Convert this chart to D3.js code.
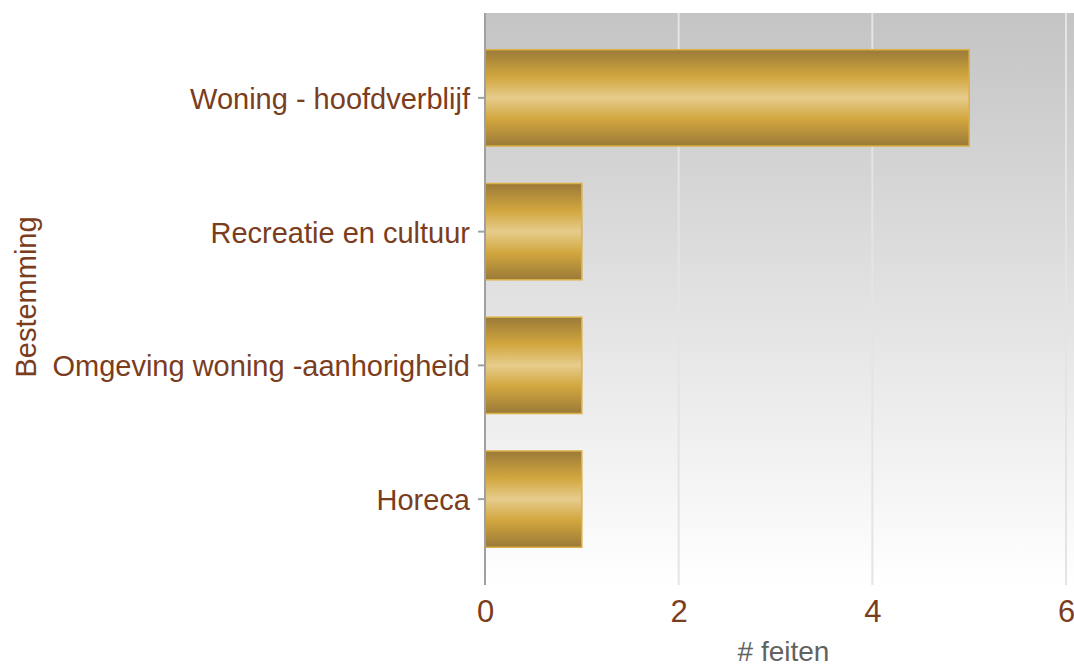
<!DOCTYPE html>
<html>
<head>
<meta charset="utf-8">
<script src="https://cdn.jsdelivr.net/npm/d3@7"></script>
<style>
body{margin:0;background:#fff;}
svg{display:block;}
</style>
</head>
<body>
<svg id="chart" width="1074" height="666"></svg>
<script>
var categories = ['Woning - hoofdverblijf', 'Recreatie en cultuur', 'Omgeving woning -aanhorigheid', 'Horeca'];
var values = [5, 1, 1, 1];
var xTicks = [0, 2, 4, 6];

var svg = d3.select('#chart');
var plotLeft = 485, plotRight = 1066, plotTop = 13, plotBottom = 585;
var font = 'Liberation Sans, Arial, sans-serif';
var brown = '#7b3d20';

var defs = svg.append('defs');
var bg = defs.append('linearGradient').attr('id', 'bg').attr('x1', 0).attr('y1', 0).attr('x2', 0).attr('y2', 1);
bg.append('stop').attr('offset', '0%').attr('stop-color', '#c4c4c4');
bg.append('stop').attr('offset', '100%').attr('stop-color', '#ffffff');

var gold = defs.append('linearGradient').attr('id', 'gold').attr('x1', 0).attr('y1', 0).attr('x2', 0).attr('y2', 1);
[['0%', '#9a7a38'], ['28%', '#d2a63e'], ['50%', '#e6cc8c'], ['72%', '#d2a63e'], ['100%', '#9a7a38']].forEach(function(s){
	gold.append('stop').attr('offset', s[0]).attr('stop-color', s[1]);
});

var x = d3.scaleLinear().domain([0, 6]).range([plotLeft, plotRight]);
var y = d3.scaleBand().domain(categories).range([31, 566]).paddingInner(0.28).paddingOuter(0.14);

// plot background
svg.append('rect')
	.attr('x', plotLeft).attr('y', plotTop)
	.attr('width', 1074 - plotLeft).attr('height', plotBottom - plotTop)
	.style('fill', 'url(#bg)');

// grid lines
svg.selectAll('line.grid')
	.data(xTicks.filter(function(d){ return d > 0; }))
	.enter()
	.append('line')
	.attr('class', 'grid')
	.attr('x1', function(d){ return x(d); })
	.attr('x2', function(d){ return x(d); })
	.attr('y1', plotTop).attr('y2', plotBottom)
	.style('stroke', '#e4e4e4')
	.style('stroke-width', 2);

// bars
svg.selectAll('rect.bar')
	.data(values)
	.enter()
	.append('rect')
	.attr('class', 'bar')
	.attr('x', x(0))
	.attr('y', function(d, i){ return y(categories[i]); })
	.attr('width', function(d){ return x(d) - x(0); })
	.attr('height', y.bandwidth())
	.style('fill', 'url(#gold)')
	.style('stroke', '#dcb046')
	.style('stroke-width', 1.5);

// y axis
var yAxis = d3.axisLeft(y).tickSize(7).tickPadding(8);
var gy = svg.append('g').attr('transform', 'translate(' + plotLeft + ',0)').call(yAxis);
gy.select('.domain').remove();
gy.append('line').attr('x1', 0).attr('x2', 0).attr('y1', plotTop).attr('y2', plotBottom)
	.style('stroke', '#a0a0a0').style('stroke-width', 2);
gy.selectAll('.tick line').style('stroke', '#a0a0a0').style('stroke-width', 2);
gy.selectAll('.tick text')
	.attr('dy', '0.38em')
	.style('font-family', font)
	.style('font-size', '29px')
	.style('fill', brown);

// x axis
var xAxis = d3.axisBottom(x).tickValues(xTicks).tickSize(0).tickFormat(d3.format('d'));
var gx = svg.append('g').attr('transform', 'translate(0,' + plotBottom + ')').call(xAxis);
gx.select('.domain').remove();
gx.selectAll('.tick text')
	.attr('y', 37).attr('dy', 0)
	.style('font-family', font)
	.style('font-size', '31px')
	.style('fill', brown);

// axis titles
svg.append('text')
	.attr('x', x(3) + 8).attr('y', 661)
	.attr('text-anchor', 'middle')
	.style('font-family', font)
	.style('font-size', '28px')
	.style('fill', '#626262')
	.text('# feiten');

svg.append('text')
	.attr('transform', 'translate(36,297) rotate(-90)')
	.attr('text-anchor', 'middle')
	.style('font-family', font)
	.style('font-size', '29px')
	.style('fill', brown)
	.text('Bestemming');
</script>
</body>
</html>
